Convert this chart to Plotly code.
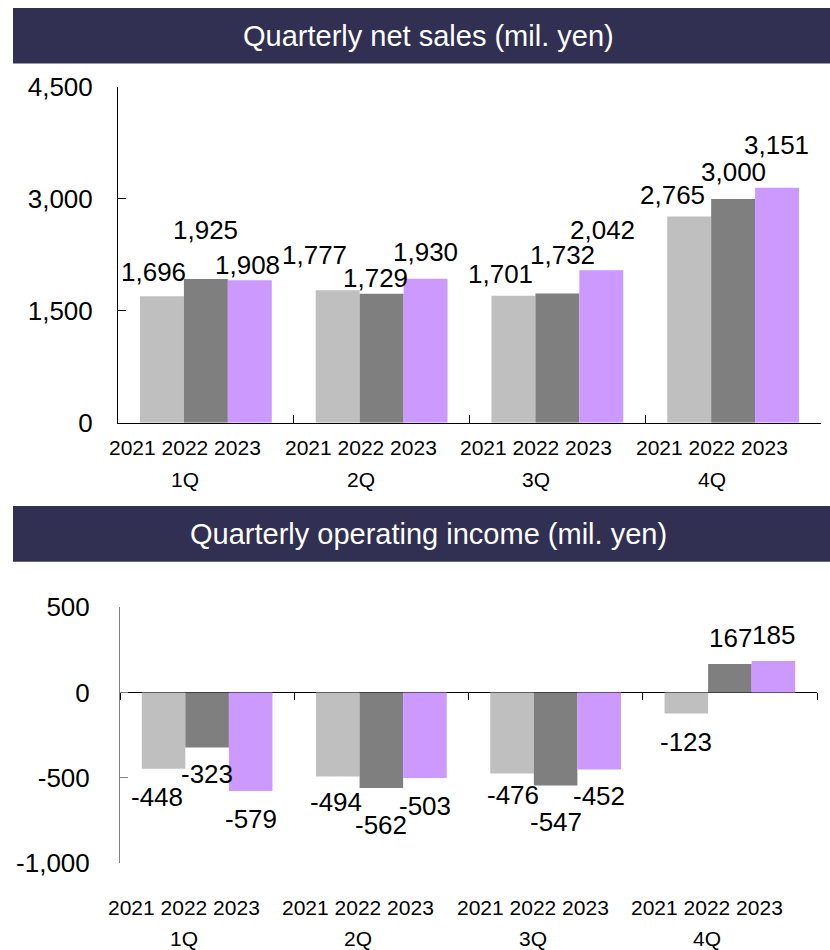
import plotly.graph_objects as go

# ---- data -------------------------------------------------------------
quarters = ["1Q", "2Q", "3Q", "4Q"]
years = ["2021", "2022", "2023"]

sales_2021 = [1696, 1777, 1701, 2765]
sales_2022 = [1925, 1729, 1732, 3000]
sales_2023 = [1908, 1930, 2042, 3151]

income_2021 = [-448, -494, -476, -123]
income_2022 = [-323, -562, -547, 167]
income_2023 = [-579, -503, -452, 185]

sales_ticks = [0, 1500, 3000, 4500]
income_ticks = [-1000, -500, 0, 500]

# ---- styling ----------------------------------------------------------
W, H = 830, 950
FONT = "Arial, Liberation Sans, sans-serif"
BAR_COLORS = {"2021": "#bfbfbf", "2022": "#7f7f7f", "2023": "#cc99ff"}
BANNER = "#313052"
BARGAP = 0.25

# label nudges in px (dx, dy) per year, per quarter; dy measured from bar end
sales_nudge = {
    "2021": [(-8, 24), (-23, 35), (-13, 22), (-17, 21)],
    "2022": [(0, 49), (-6, 16), (5, 38), (0, 27)],
    "2023": [(-2, 15), (0, 27), (1, 40), (-1, 43)],
}
income_nudge = {
    "2021": [(-7, -28), (-2, -25), (1, -22), (0, -29)],
    "2022": [(0, -27), (0, -37), (0, -36), (1, 26)],
    "2023": [(0, -28), (0, -28), (0, -27), (0, 26)],
}

sales = {"2021": sales_2021, "2022": sales_2022, "2023": sales_2023}
income = {"2021": income_2021, "2022": income_2022, "2023": income_2023}


def fmt(v):
    s = f"{abs(v):,}"
    return "-" + s if v < 0 else s


def px_x(x):
    return x / W


def px_y(y):
    return 1 - y / H


top_dom_x = [px_x(118), px_x(821)]
top_dom_y = [px_y(422.7), px_y(87)]
bot_dom_x = [px_x(120), px_x(817)]
bot_dom_y = [px_y(862.7), px_y(607.3)]
top_range = [0, 4500]
bot_range = [-1000, 500]
# paper position of the zero line in the lower panel
zero_pos = bot_dom_y[0] + (0 - bot_range[0]) / (bot_range[1] - bot_range[0]) * (bot_dom_y[1] - bot_dom_y[0])

fig = go.Figure()

for yr in years:
    fig.add_trace(go.Bar(x=quarters, y=sales[yr], name=yr, marker_color=BAR_COLORS[yr],
                         marker_line_width=0, xaxis="x", yaxis="y", hoverinfo="skip"))
for yr in years:
    fig.add_trace(go.Bar(x=quarters, y=income[yr], name=yr, marker_color=BAR_COLORS[yr],
                         marker_line_width=0, xaxis="x2", yaxis="y2", hoverinfo="skip"))

annotations = []
slot = (1 - BARGAP) / len(years)

# value labels
for k, yr in enumerate(years):
    for qi, q in enumerate(quarters):
        for vals, nudge, xr, yr_ref in ((sales, sales_nudge, "x", "y"), (income, income_nudge, "x2", "y2")):
            v = vals[yr][qi]
            dx, dy = nudge[yr][qi]
            annotations.append(dict(
                x=qi + (k - 1) * slot, y=v, xref=xr, yref=yr_ref,
                text=fmt(v), showarrow=False, xanchor="center", yanchor="middle",
                xshift=dx, yshift=dy, font=dict(family=FONT, size=26, color="black")))

# category labels (year row and quarter row)
for qi, q in enumerate(quarters):
    for xr, ydom, xs, ys_year, ys_q in (("x", "y domain", -21, -25, -57),
                                        ("x2", "y2 domain", -23, -45, -76)):
        annotations.append(dict(x=qi, y=0, xref=xr, yref=ydom, text=" ".join(years),
                                showarrow=False, xanchor="center", yanchor="middle",
                                xshift=xs, yshift=ys_year,
                                font=dict(family=FONT, size=21, color="black")))
        annotations.append(dict(x=qi, y=0, xref=xr, yref=ydom, text=q,
                                showarrow=False, xanchor="center", yanchor="middle",
                                xshift=xs, yshift=ys_q,
                                font=dict(family=FONT, size=21, color="black")))

# banner titles
for title, y0, y1 in (("Quarterly net sales (mil. yen)", 8, 63.5),
                      ("Quarterly operating income (mil. yen)", 506, 561.7)):
    annotations.append(dict(x=px_x(428), y=px_y((y0 + y1) / 2), xref="paper", yref="paper",
                            text=title, showarrow=False, xanchor="center", yanchor="middle",
                            font=dict(family=FONT, size=29, color="white")))

shapes = [
    dict(type="rect", xref="paper", yref="paper", x0=px_x(13), x1=1.0,
         y0=px_y(63.5), y1=px_y(8), fillcolor=BANNER, line_width=0, layer="below"),
    dict(type="rect", xref="paper", yref="paper", x0=px_x(13), x1=1.0,
         y0=px_y(561.7), y1=px_y(506), fillcolor=BANNER, line_width=0, layer="below"),
]

fig.update_layout(
    template="none",
    width=W, height=H, margin=dict(l=0, r=0, t=0, b=0, pad=0, autoexpand=False),
    paper_bgcolor="white", plot_bgcolor="white",
    barmode="group", bargap=BARGAP, bargroupgap=0, showlegend=False,
    font=dict(family=FONT, color="black"),
    annotations=annotations, shapes=shapes,
    xaxis=dict(domain=top_dom_x, anchor="y", type="category", range=[-0.5, 3.5],
               showline=True, linecolor="black", linewidth=1,
               ticks="inside", tickson="boundaries", ticklen=8, tickcolor="black",
               showticklabels=False, showgrid=False, zeroline=False, automargin=False),
    yaxis=dict(domain=top_dom_y, anchor="x", range=top_range,
               showline=True, linecolor="black", linewidth=1,
               ticks="inside", ticklen=8, tickcolor="black",
               tickvals=sales_ticks, ticktext=[fmt(v) for v in sales_ticks],
               tickfont=dict(family=FONT, size=26, color="black"),
               ticklabelstandoff=19, showgrid=False, zeroline=False, automargin=False),
    # category boundary ticks hang from the zero line; the line itself is the y zeroline
    xaxis2=dict(domain=bot_dom_x, anchor="free", position=zero_pos, type="category",
                range=[-0.5, 3.5], showline=False,
                ticks="outside", tickson="boundaries", ticklen=7, tickcolor="black",
                showticklabels=False, showgrid=False, zeroline=False, automargin=False),
    yaxis2=dict(domain=bot_dom_y, anchor="x2", range=bot_range,
                showline=True, linecolor="#808080", linewidth=1,
                ticks="inside", ticklen=8, tickcolor="#808080",
                tickvals=income_ticks, ticktext=[fmt(v) for v in income_ticks],
                tickfont=dict(family=FONT, size=26, color="black"),
                ticklabelstandoff=24, showgrid=False,
                zeroline=True, zerolinecolor="black", zerolinewidth=1, automargin=False),
)

fig.write_html("out.html")
